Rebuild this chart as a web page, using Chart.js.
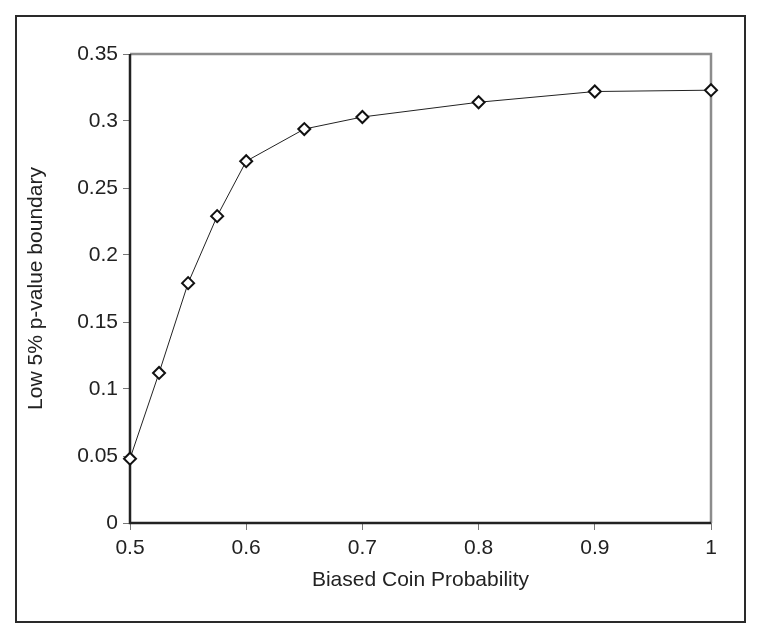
<!DOCTYPE html>
<html>
<head>
<meta charset="utf-8">
<script src="https://cdn.jsdelivr.net/npm/chart.js@4/dist/chart.umd.min.js"></script>
<style>
html,body{margin:0;padding:0;background:#fff;}
#wrap{position:relative;width:762px;height:639px;}
</style>
</head>
<body>
<div id="wrap"><canvas id="c" width="762" height="639"></canvas></div>
<script>
const coinProbability = [0.5, 0.525, 0.55, 0.575, 0.6, 0.65, 0.7, 0.8, 0.9, 1.0];
const lowBoundary = [0.048, 0.112, 0.179, 0.229, 0.270, 0.294, 0.303, 0.314, 0.322, 0.323];
const xTickValues = [0.5, 0.6, 0.7, 0.8, 0.9, 1];
const yTickValues = [0, 0.05, 0.1, 0.15, 0.2, 0.25, 0.3, 0.35];
const xTitle = 'Biased Coin Probability';
const yTitle = 'Low 5% p-value boundary';

const FONT = "'Liberation Sans', Arial, sans-serif";

const framePlugin = {
  id: 'frame',
  beforeDatasetsDraw(chart) {
    const {ctx, chartArea: a} = chart;
    ctx.save();
    ctx.strokeStyle = '#8c8c8c';
    ctx.lineWidth = 2.5;
    ctx.beginPath();
    ctx.moveTo(a.left, a.top);
    ctx.lineTo(a.right, a.top);
    ctx.lineTo(a.right, a.bottom);
    ctx.stroke();
    ctx.strokeStyle = '#222';
    ctx.lineWidth = 2.5;
    ctx.beginPath();
    ctx.moveTo(a.left, a.top);
    ctx.lineTo(a.left, a.bottom);
    ctx.lineTo(a.right, a.bottom);
    ctx.stroke();
    ctx.restore();
  },
  afterDraw(chart) {
    const ctx = chart.ctx;
    ctx.save();
    ctx.strokeStyle = '#2a2a2a';
    ctx.lineWidth = 2;
    ctx.strokeRect(16, 16, 729, 606);
    ctx.restore();
  }
};

new Chart(document.getElementById('c'), {
  type: 'line',
  data: {
    datasets: [{
      data: coinProbability.map((x, i) => ({x: x, y: lowBoundary[i]})),
      borderColor: '#222',
      borderWidth: 1,
      pointStyle: 'rectRot',
      pointRadius: 6,
      pointBackgroundColor: '#fff',
      pointBorderColor: '#111',
      pointBorderWidth: 2,
      tension: 0,
      fill: false,
      clip: false
    }]
  },
  options: {
    responsive: false,
    animation: false,
    layout: {padding: {left: 0, top: 54, right: 51, bottom: 0}},
    plugins: {legend: {display: false}, tooltip: {enabled: false}},
    scales: {
      x: {
        type: 'linear',
        min: 0.5, max: 1,
        afterBuildTicks: s => { s.ticks = xTickValues.map(v => ({value: v})); },
        afterFit: s => { s.height = 639 - 523; },
        grid: {display: true, drawOnChartArea: false, drawTicks: true, tickLength: 7, color: '#777', lineWidth: 1},
        border: {display: false},
        ticks: {color: '#222', font: {family: FONT, size: 21}, padding: 6, maxRotation: 0,
                callback: v => String(v)},
        title: {display: true, text: xTitle, color: '#222', font: {family: FONT, size: 21}, padding: {top: 0, bottom: 46}}
      },
      y: {
        type: 'linear',
        min: 0, max: 0.35,
        afterBuildTicks: s => { s.ticks = yTickValues.map(v => ({value: v})); },
        afterFit: s => { s.width = 130; },
        grid: {display: true, drawOnChartArea: false, drawTicks: true, tickLength: 7, color: '#777', lineWidth: 1},
        border: {display: false},
        ticks: {color: '#222', font: {family: FONT, size: 21}, padding: 5,
                callback: v => String(Number(v.toFixed(2)))},
        title: {display: true, text: yTitle, color: '#222', font: {family: FONT, size: 21}, padding: {top: 24, bottom: 0}}
      }
    }
  },
  plugins: [framePlugin]
});
</script>
</body>
</html>
